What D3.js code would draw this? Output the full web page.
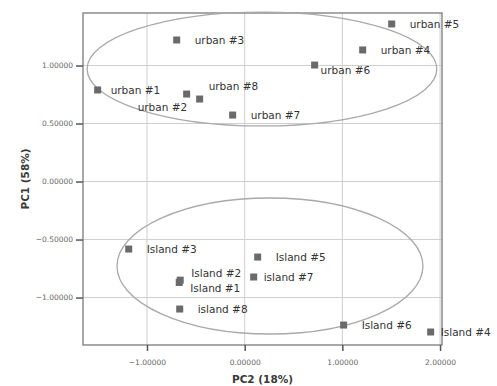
<!DOCTYPE html>
<html><head><meta charset="utf-8">
<script src="https://cdn.jsdelivr.net/npm/d3@7"></script>
<style>html,body{margin:0;padding:0;background:#fff;}</style>
</head><body>
<svg id="c" width="497" height="386"></svg>
<script>
// ---- data ----
const names = ["urban #1","urban #2","urban #3","urban #4","urban #5","urban #6","urban #7","urban #8",
               "Island #1","Island #2","Island #3","Island #4","Island #5","Island #6","island #7","island #8"];
const pc2 = [-1.505,-0.594,-0.696,1.208,1.505,0.716,-0.123,-0.461,
             -0.670,-0.660,-1.187,1.904,0.133,1.013,0.092,-0.665];
const pc1 = [0.789,0.754,1.220,1.134,1.358,1.004,0.573,0.711,
             -0.870,-0.850,-0.582,-1.297,-0.651,-1.237,-0.823,-1.099];
const xTicks = [-1,0,1,2];
const yTicks = [1,0.5,0,-0.5,-1];
// confidence ellipses: centre (pc2, pc1), radii
const ellCx = [0.177,0.259];
const ellCy = [0.970,-0.728];
const ellRx = [1.79,1.566];
const ellRy = [0.491,0.586];

// ---- layout (label placement) ----
const labelOff = {
  "urban #1":[13,0],"urban #2":[-49,13],"urban #8":[9,-13],"urban #6":[6,5],
  "Island #1":[11,6],"Island #2":[11,-7],"island #7":[10,0],"Island #4":[10,0]
};

const svg = d3.select("#c");
const L=83,R=442,T=13,B=345;
const x = d3.scaleLinear().domain([-1.655,2.02]).range([L,R]);
const y = d3.scaleLinear().domain([-1.409,1.4526]).range([B,T]);

// grid
svg.append("g").selectAll("line").data(xTicks).join("line")
  .attr("x1",d=>x(d)).attr("x2",d=>x(d)).attr("y1",T).attr("y2",B)
  .attr("stroke","#cfcfcf").attr("stroke-width",1);
svg.append("g").selectAll("line").data(yTicks).join("line")
  .attr("x1",L).attr("x2",R).attr("y1",d=>y(d)).attr("y2",d=>y(d))
  .attr("stroke","#cfcfcf").attr("stroke-width",1);

// frame
svg.append("rect").attr("x",L).attr("y",T).attr("width",R-L).attr("height",B-T)
  .attr("fill","none").attr("stroke","#7a7a7a").attr("stroke-width",1.3);

// axes
const fmt = d3.format(".5f");
const xa = svg.append("g").attr("transform",`translate(0,${B})`)
  .call(d3.axisBottom(x).tickValues(xTicks).tickFormat(fmt).tickSize(6).tickSizeOuter(0));
const ya = svg.append("g").attr("transform",`translate(${L},0)`)
  .call(d3.axisLeft(y).tickValues(yTicks).tickFormat(fmt).tickSize(7).tickSizeOuter(0));
[xa,ya].forEach(a=>{
  a.select(".domain").remove();
  a.selectAll(".tick line").attr("stroke","#555").attr("stroke-width",1.5);
  a.selectAll(".tick text").attr("fill","#666").style("font-family","DejaVu Sans")
    .style("font-size","7.5px");
});
xa.selectAll(".tick text").attr("dy","1.45em");
ya.selectAll(".tick text").attr("x",-10);

// ellipses
svg.append("g").selectAll("ellipse").data(ellCx).join("ellipse")
  .attr("cx",(d,i)=>x(d)).attr("cy",(d,i)=>y(ellCy[i]))
  .attr("rx",(d,i)=>x(ellRx[i])-x(0)).attr("ry",(d,i)=>y(0)-y(ellRy[i]))
  .attr("fill","none").attr("stroke","#a9a9a9").attr("stroke-width",1.3);

// points
const pts = names.map((n,i)=>({n,x:pc2[i],y:pc1[i]}));
svg.append("g").selectAll("rect").data(pts).join("rect")
  .attr("x",d=>x(d.x)-3.5).attr("y",d=>y(d.y)-3.5).attr("width",7).attr("height",7)
  .attr("fill","#6a6a6a");
svg.append("g").selectAll("text").data(pts).join("text")
  .attr("x",d=>x(d.x)+(labelOff[d.n]?labelOff[d.n][0]:18))
  .attr("y",d=>y(d.y)+(labelOff[d.n]?labelOff[d.n][1]:0))
  .attr("dy","0.35em")
  .style("font-family","DejaVu Sans").style("font-size","10.5px").attr("fill","#333")
  .text(d=>d.n);

// axis titles
svg.append("text").attr("x",(L+R)/2).attr("y",383).attr("text-anchor","middle")
  .style("font-family","DejaVu Sans").style("font-weight","bold").style("font-size","10.5px")
  .attr("fill","#3a3a3a").text("PC2 (18%)");
svg.append("text").attr("transform",`translate(29,${(T+B)/2}) rotate(-90)`).attr("text-anchor","middle")
  .style("font-family","DejaVu Sans").style("font-weight","bold").style("font-size","10.5px")
  .attr("fill","#3a3a3a").text("PC1 (58%)");
</script>
</body></html>
